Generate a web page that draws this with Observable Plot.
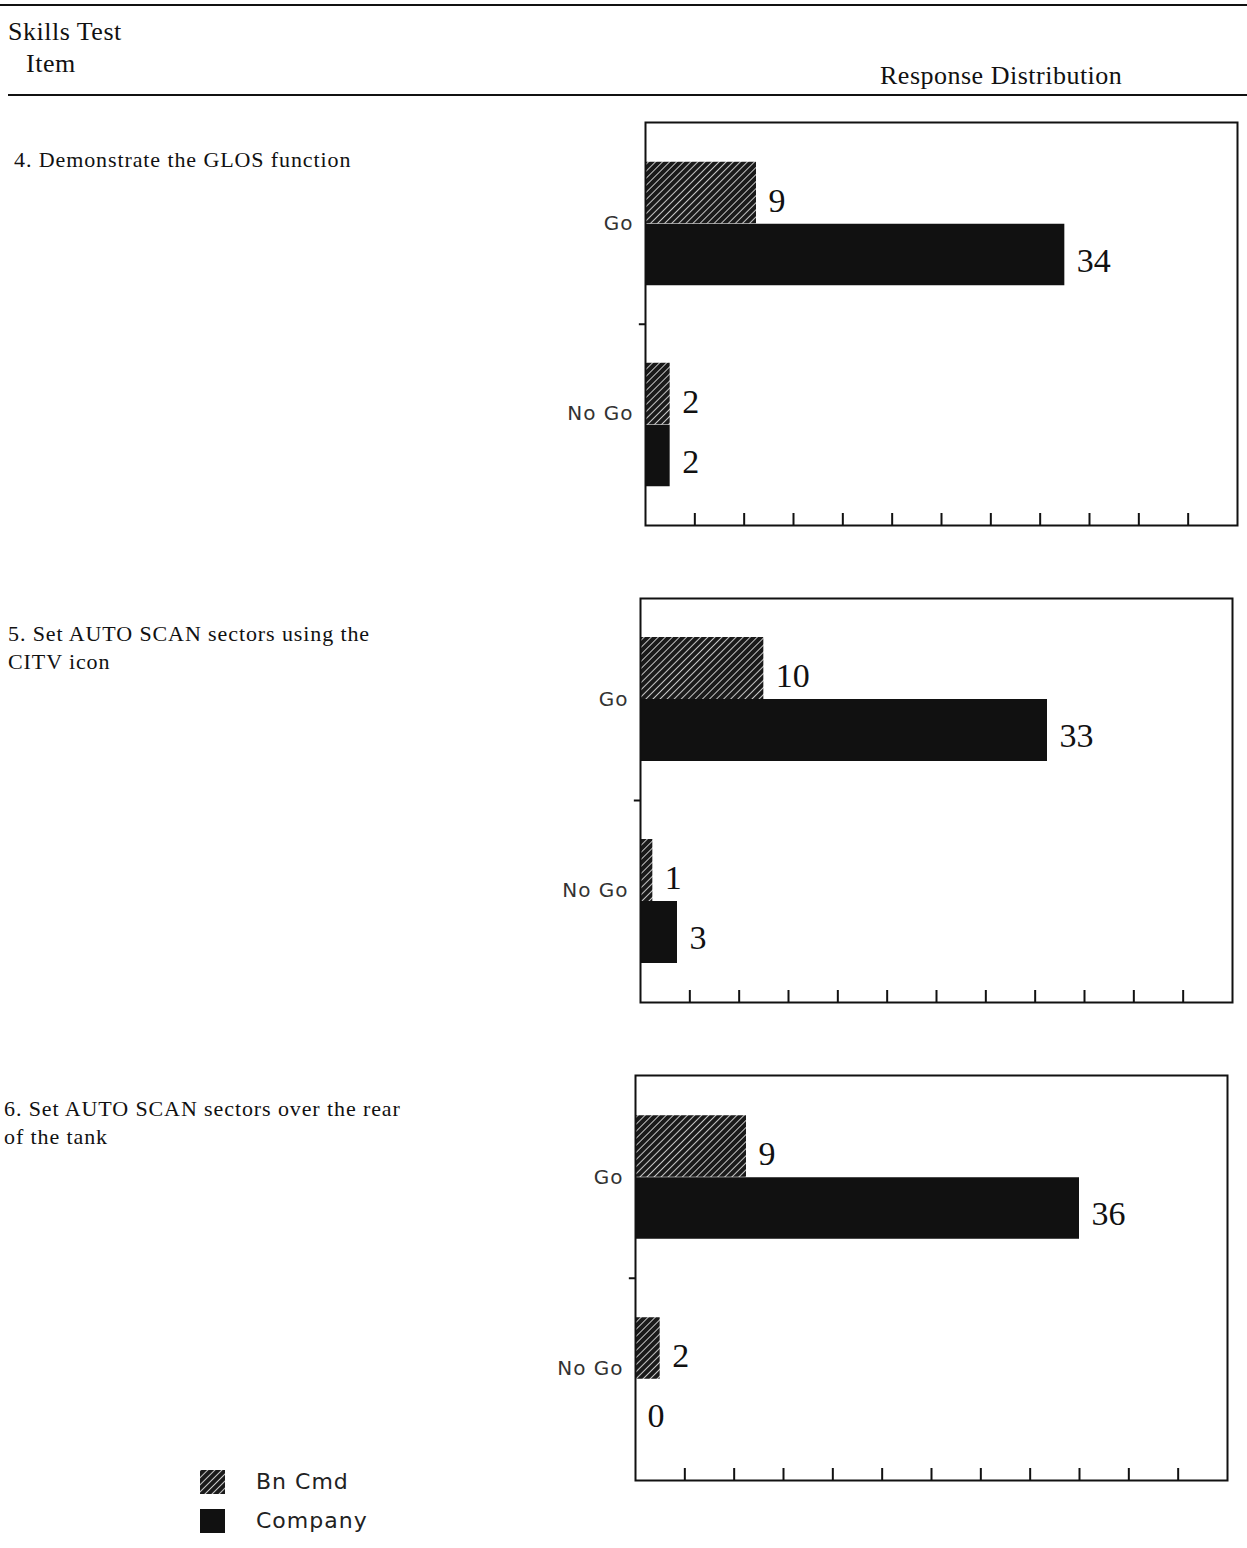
<!DOCTYPE html>
<html><head><meta charset="utf-8">
<script src="https://cdn.jsdelivr.net/npm/d3@7"></script>
<script src="https://cdn.jsdelivr.net/npm/@observablehq/plot@0.6"></script>
<style>
body{margin:0;background:#fff;}
#page{position:relative;width:1247px;height:1548px;overflow:hidden;font-family:"Liberation Serif","Times New Roman",serif;color:#111;background:#fff;}
.abs{position:absolute;white-space:pre-line;}
.rule{position:absolute;background:#111;}
.head{font-size:26px;line-height:30px;letter-spacing:0.5px;}
.item{font-size:22px;line-height:28px;letter-spacing:0.9px;}
.panel{position:absolute;}
.panel g[aria-label="y-axis tick label"] text{letter-spacing:1px;}
.legend{position:absolute;left:200px;top:1462px;font-family:"DejaVu Sans",sans-serif;font-size:22px;color:#222;letter-spacing:1px;}
.legend .row{display:flex;align-items:center;height:39px;}
.legend svg{margin-right:31px;}
</style></head><body>
<svg width="0" height="0" style="position:absolute">
  <defs>
    <pattern id="hatch" width="5" height="5" patternUnits="userSpaceOnUse" patternTransform="rotate(45)">
      <rect width="5" height="5" fill="#1a1a1a"></rect>
      <line x1="0" y1="0" x2="0" y2="5" stroke="#f2f2f2" stroke-width="1.6"></line>
    </pattern>
  </defs>
</svg>
<div id="page">
  <div class="rule" style="left:0;top:4px;width:1247px;height:2px;"></div>
  <div class="abs head" id="h1" style="left:8px;top:17px;"></div>
  <div class="abs head" id="h2" style="left:26px;top:49px;"></div>
  <div class="abs head" id="h3" style="left:880px;top:61px;"></div>
  <div class="rule" style="left:8px;top:94px;width:1239px;height:2px;"></div>
  <div class="abs item" id="item0" style="left:14px;top:146px;"></div>
  <div class="abs item" id="item1" style="left:8px;top:620px;"></div>
  <div class="abs item" id="item2" style="left:4px;top:1095px;"></div>
  <div id="p0" class="panel"></div>
  <div id="p1" class="panel"></div>
  <div id="p2" class="panel"></div>
  <div class="legend" id="legend"></div>
</div>
<script>
// ---- data ----
const headerLines = ["Skills Test", "Item", "Response Distribution"];
const items = [
  "4. Demonstrate the GLOS function",
  "5. Set AUTO SCAN sectors using the\nCITV icon",
  "6. Set AUTO SCAN sectors over the rear\nof the tank"
];
const categories = ["Go", "No Go"];
const series = ["Bn Cmd", "Company"];
const bnCmd4 = [9, 2];
const company4 = [34, 2];
const bnCmd5 = [10, 1];
const company5 = [33, 3];
const bnCmd6 = [9, 2];
const company6 = [36, 0];
const xTicks = [4, 8, 12, 16, 20, 24, 28, 32, 36, 40, 44];
const xDomain = [0, 48];
const seriesFill = {"Bn Cmd": "url(#hatch)", "Company": "#111"};

// ---- layout ----
document.getElementById("h1").textContent = headerLines[0];
document.getElementById("h2").textContent = headerLines[1];
document.getElementById("h3").textContent = headerLines[2];
items.forEach((t, i) => document.getElementById("item" + i).textContent = t);

const boxes = [
  {left: 645, top: 122, right: 1237, bottom: 525},
  {left: 640, top: 598, right: 1232, bottom: 1002},
  {left: 635, top: 1075, right: 1227, bottom: 1480}
];
const panelData = [[bnCmd4, company4], [bnCmd5, company5], [bnCmd6, company6]];

function makePanel(bn, co, box, el) {
  const mL = 110, mR = 4, mT = 3, mB = 3;
  const W = box.right - box.left, H = box.bottom - box.top;
  const half = H / 4;
  const thick = 62;
  const bnData = categories.map((c, i) => ({cat: c, series: series[0], value: bn[i]}));
  const coData = categories.map((c, i) => ({cat: c, series: series[1], value: co[i]}));
  const labelStyle = {textAnchor: "start", fontSize: 34, fontFamily: "Liberation Serif", fill: "#111"};
  const plot = Plot.plot({
    width: W + mL + mR,
    height: H + mT + mB,
    marginLeft: mL, marginRight: mR, marginTop: mT, marginBottom: mB,
    x: {domain: xDomain, label: null},
    y: {domain: categories, padding: 0, label: null},
    style: {background: "transparent", color: "#111", overflow: "visible"},
    marks: [
      Plot.barX(bnData, {x: "value", y: "cat", fill: seriesFill[series[0]], insetTop: half - thick, insetBottom: half}),
      Plot.barX(coData, {x: "value", y: "cat", fill: seriesFill[series[1]], insetTop: half, insetBottom: half - thick}),
      Plot.text(bnData, {x: "value", y: "cat", text: d => String(d.value), dx: 12, dy: -23, ...labelStyle}),
      Plot.text(coData, {x: "value", y: "cat", text: d => String(d.value), dx: 12, dy: 37, ...labelStyle}),
      Plot.frame({stroke: "#111", strokeWidth: 2}),
      Plot.axisX({ticks: xTicks, tickSize: -12, tickFormat: () => "", strokeWidth: 2, label: null}),
      Plot.axisY({ticks: [categories[0]], tickSize: 0, tickPadding: 12, fontSize: 20, fontFamily: "DejaVu Sans", fill: "#333", label: null}),
      Plot.axisY({ticks: [categories[1]], tickSize: 0, tickPadding: 12, dy: -11, fontSize: 20, fontFamily: "DejaVu Sans", fill: "#333", label: null}),
      Plot.ruleY([categories[1]], {y: d => d, x1: -0.5, x2: 0, dy: -half, strokeWidth: 2, stroke: "#111"})
    ]
  });
  el.style.left = (box.left - mL) + "px";
  el.style.top = (box.top - mT) + "px";
  el.appendChild(plot);
}
panelData.forEach(([bn, co], i) => makePanel(bn, co, boxes[i], document.getElementById("p" + i)));

// legend
const leg = document.getElementById("legend");
series.forEach(s => {
  const row = document.createElement("div");
  row.className = "row";
  row.innerHTML = `<svg width="25" height="24"><rect width="25" height="24" fill="${seriesFill[s]}"></rect></svg><span>${s}</span>`;
  leg.appendChild(row);
});
</script>
</body></html>
